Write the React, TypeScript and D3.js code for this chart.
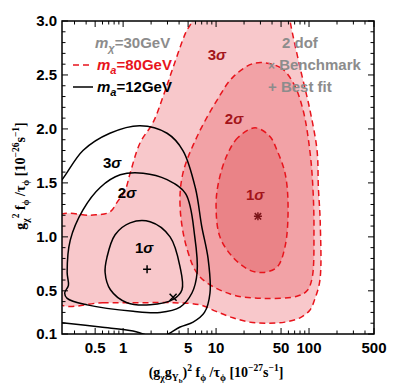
import { curveCatmullRom, curveCatmullRomClosed, line, scaleLinear, scaleLog } from "d3";

// m_a = 80 GeV contours (dashed red, filled)
const red3: [number, number][] = [
  [0.2, 0.39], [0.6, 0.39], [1.5, 0.39], [3.5, 0.39], [6.7, 0.37], [10, 0.31],
  [15.2, 0.25], [23, 0.21], [35.3, 0.2], [55, 0.21], [80, 0.25], [102, 0.32],
  [115, 0.42], [131, 0.6], [132, 1.13], [126, 1.46], [122, 1.8], [102, 2.18],
  [80, 2.57], [62.5, 3.0], [58, 3.2], [5.9, 3.2], [5.5, 3.0], [4.7, 2.89],
  [3.45, 2.57], [2.69, 2.3], [2.1, 2.06], [1.52, 1.87], [1.19, 1.59],
  [1.05, 1.43], [0.86, 1.32], [0.72, 1.23], [0.45, 1.2], [0.2, 1.19],
];
const red2: [number, number][] = [
  [26.3, 2.61], [48.8, 2.57], [67.3, 2.43], [86, 2.18], [102, 1.8], [110, 1.46],
  [113, 1.06], [108, 0.62], [95, 0.5], [74, 0.45], [32, 0.43], [14.2, 0.47],
  [6.7, 0.63], [4.9, 0.88], [4.1, 1.28], [4.4, 1.59], [6.25, 1.93],
  [10.3, 2.27], [15.2, 2.48],
];
const red1: [number, number][] = [
  [26.3, 2.01], [17.2, 1.92], [13, 1.75], [10.6, 1.5], [10, 1.28], [11, 1.0],
  [15.2, 0.81], [23.2, 0.69], [32, 0.67], [45.3, 0.72], [55.2, 0.91],
  [59.5, 1.28], [55.2, 1.59], [45.3, 1.8], [38, 1.93],
];

// m_a = 12 GeV contours (solid black)
const black3: [number, number][] = [
  [0.19, 0.21], [0.22, 0.205], [0.57, 0.165], [1.28, 0.128], [1.64, 0.1],
  [2.4, 0.06], [3.05, 0.1], [4.1, 0.165], [5.66, 0.21], [7.5, 0.3],
  [8.6, 0.48], [8.2, 0.8], [7.0, 1.1], [6.0, 1.45], [4.4, 1.8], [2.97, 1.96],
  [1.52, 2.03], [0.72, 1.96], [0.37, 1.8], [0.22, 1.53], [0.19, 1.48],
];
const black2: [number, number][] = [
  [1.64, 1.59], [2.97, 1.53], [4.7, 1.4], [5.9, 1.0], [6.25, 0.67],
  [5.5, 0.48], [4.1, 0.35], [2.5, 0.3], [1.28, 0.31], [0.41, 0.37],
  [0.25, 0.43], [0.235, 0.48], [0.258, 0.55], [0.25, 0.67], [0.27, 0.97],
  [0.37, 1.25], [0.57, 1.46], [0.93, 1.575],
];
const black1: [number, number][] = [
  [1.19, 1.13], [1.95, 1.14], [3.2, 1.0], [4.1, 0.72], [4.3, 0.51],
  [3.45, 0.42], [1.95, 0.37], [1.1, 0.39], [0.73, 0.51], [0.64, 0.67],
  [0.67, 0.81], [0.82, 1.02],
];

const bestFit12: [number, number] = [1.81, 0.7];
const benchmark: [number, number] = [3.45, 0.44];
const bestFit80: [number, number] = [28.2, 1.19];

// sigma labels: [x, y, text]
const blackLabels: [number, number, string][] = [
  [0.76, 1.64, "3"], [1.1, 1.36, "2"], [1.68, 0.85, "1"],
];
const redLabels: [number, number, string][] = [
  [10.2, 2.64, "3"], [15.6, 2.05, "2"], [26.3, 1.34, "1"],
];

const xTickLabels = [0.5, 1, 5, 10, 50, 100, 500];
const yTickLabels = [0.1, 0.5, 1.0, 1.5, 2.0, 2.5, 3.0];

const RED = "#e8141c";
const DARKRED = "#a3141a";
const GRAY = "#8c8c8c";

type Seg = [string, number?];
// render text segments with shift: 0 normal, 1 sub, -1 sup, 2 subsub
function Rich({ segs, size }: { segs: Seg[]; size: number }) {
  let prev = 0;
  const off = (s: number) => (s === 1 ? size * 0.3 : s === -1 ? -size * 0.42 : s === 2 ? size * 0.45 : 0);
  return (
    <>
      {segs.map(([t, s = 0], i) => {
        const o = off(s);
        const dy = o - prev;
        prev = o;
        return (
          <tspan key={i} dy={dy} fontSize={s === 0 ? size : s === 2 ? size * 0.5 : size * 0.68}>
            {t}
          </tspan>
        );
      })}
    </>
  );
}

export default function App() {
  const x = scaleLog().domain([0.22, 500]).range([62, 374]);
  const y = scaleLinear().domain([0.1, 3.0]).range([334, 21]);
  const closed = line<[number, number]>()
    .x((d) => x(d[0]))
    .y((d) => y(d[1]))
    .curve(curveCatmullRomClosed.alpha(0.5));
  const open = line<[number, number]>()
    .x((d) => x(d[0]))
    .y((d) => y(d[1]))
    .curve(curveCatmullRom.alpha(0.5));

  const xMinor: number[] = [];
  [0.1, 1, 10, 100].forEach((dec) => {
    for (let k = 1; k <= 9; k++) {
      const v = dec * k;
      if (v >= 0.22 && v <= 500) xMinor.push(v);
    }
  });
  const yMinor: number[] = [];
  for (let k = 1; k <= 30; k++) yMinor.push(k / 10);

  const [x0, x1] = x.range();
  const [y0, y1] = y.range();
  const sans = "Liberation Sans, Arial, sans-serif";
  const serif = "Liberation Serif, Times New Roman, serif";

  const cross = (p: [number, number], s: number) => {
    const cx = x(p[0]), cy = y(p[1]);
    return `M${cx - s},${cy - s}L${cx + s},${cy + s}M${cx - s},${cy + s}L${cx + s},${cy - s}`;
  };
  const plus = (p: [number, number], s: number) => {
    const cx = x(p[0]), cy = y(p[1]);
    return `M${cx - s},${cy}L${cx + s},${cy}M${cx},${cy - s}L${cx},${cy + s}`;
  };

  return (
    <div style={{ position: "absolute", left: 0, top: 0 }}>
      <svg width={399} height={385} style={{ display: "block", background: "#fff" }}>
        <defs>
          <clipPath id="plotClip">
            <rect x={x0} y={y1} width={x1 - x0} height={y0 - y1} />
          </clipPath>
        </defs>
        <g clipPath="url(#plotClip)">
          <path d={closed(red3) ?? ""} fill="#f8c8cb" stroke="none" />
          <path d={closed(red2) ?? ""} fill="#f2a2a6" stroke="none" />
          <path d={closed(red1) ?? ""} fill="#ea8387" stroke="none" />
          {[red3, red2, red1].map((c, i) => (
            <path key={i} d={closed(c) ?? ""} fill="none" stroke={RED} strokeWidth={1.5} strokeDasharray="6,4" />
          ))}
          <path d={open(black3) ?? ""} fill="none" stroke="#000" strokeWidth={1.5} />
          <path d={closed(black2) ?? ""} fill="none" stroke="#000" strokeWidth={1.5} />
          <path d={closed(black1) ?? ""} fill="none" stroke="#000" strokeWidth={1.5} />
        </g>

        {/* markers */}
        <path d={plus(bestFit12, 4)} stroke="#000" strokeWidth={1.5} />
        <path d={cross(benchmark, 3.5)} stroke="#000" strokeWidth={1.5} />
        <g stroke="#7a1418" strokeWidth={1.5}>
          <path d={plus(bestFit80, 4)} />
          <path d={cross(bestFit80, 3.2)} />
        </g>

        {/* sigma labels */}
        {blackLabels.map(([a, b, t], i) => (
          <text key={"b" + i} x={x(a)} y={y(b)} textAnchor="middle" fontFamily={sans} fontWeight="bold" fontSize={15} fill="#000">
            {t}
            <tspan fontStyle="italic">σ</tspan>
          </text>
        ))}
        {redLabels.map(([a, b, t], i) => (
          <text key={"r" + i} x={x(a)} y={y(b)} textAnchor="middle" fontFamily={sans} fontWeight="bold" fontSize={15} fill={DARKRED}>
            {t}
            <tspan fontStyle="italic">σ</tspan>
          </text>
        ))}

        {/* frame */}
        <rect x={x0} y={y1} width={x1 - x0} height={y0 - y1} fill="none" stroke="#000" strokeWidth={1.5} />

        {/* ticks */}
        <g stroke="#000" strokeWidth={1}>
          {xMinor.map((v, i) => {
            const major = xTickLabels.includes(+v.toPrecision(3));
            const len = major ? 6 : 3.5;
            return (
              <g key={i}>
                <line x1={x(v)} x2={x(v)} y1={y0} y2={y0 - len} />
                <line x1={x(v)} x2={x(v)} y1={y1} y2={y1 + len} />
              </g>
            );
          })}
          {yMinor.map((v, i) => {
            const major = Math.abs((v * 10) % 5) < 1e-6 || v === 0.1;
            const len = major ? 6 : 3.5;
            return (
              <g key={i}>
                <line x1={x0} x2={x0 + len} y1={y(v)} y2={y(v)} />
                <line x1={x1} x2={x1 - len} y1={y(v)} y2={y(v)} />
              </g>
            );
          })}
        </g>
        {xTickLabels.map((v) => (
          <text key={v} x={x(v)} y={y0 + 19} textAnchor="middle" fontFamily={sans} fontWeight="bold" fontSize={15}>
            {String(v)}
          </text>
        ))}
        {yTickLabels.map((v) => (
          <text key={v} x={x0 - 5} y={y(v) + 5} textAnchor="end" fontFamily={sans} fontWeight="bold" fontSize={15}>
            {v.toFixed(1)}
          </text>
        ))}

        {/* axis titles */}
        <text x={216} y={377} textAnchor="middle" fontFamily={serif} fontWeight="bold" fill="#000">
          <Rich
            size={14}
            segs={[
              ["(g"], ["χ", 1], ["g"], ["Y", 1], ["b", 2], [")"], ["2", -1],
              [" f"], ["ϕ", 1], [" /τ"], ["ϕ", 1], [" [10"], ["−27", -1], ["s"], ["−1", -1], ["]"],
            ]}
          />
        </text>
        <text transform="translate(25,176) rotate(-90)" textAnchor="middle" fontFamily={serif} fontWeight="bold" fill="#000">
          <Rich
            size={14}
            segs={[
              ["g"], ["χ", 1], ["2", -1], [" f"], ["ϕ", 1], [" /τ"], ["ϕ", 1],
              [" [10"], ["−26", -1], ["s"], ["−1", -1], ["]"],
            ]}
          />
        </text>

        {/* legend left */}
        <text x={95} y={48} fontFamily={sans} fontWeight="bold" fontSize={15} fill={GRAY}>
          <tspan fontStyle="italic">m</tspan>
          <tspan fontStyle="italic" fontSize={11} dy={4}>χ</tspan>
          <tspan dy={-4}>=30GeV</tspan>
        </text>
        <line x1={73} x2={93} y1={65} y2={65} stroke={RED} strokeWidth={1.5} strokeDasharray="6,4" />
        <text x={97} y={70} fontFamily={sans} fontWeight="bold" fontSize={15} fill={RED}>
          <tspan fontStyle="italic">m</tspan>
          <tspan fontStyle="italic" fontSize={11} dy={4}>a</tspan>
          <tspan dy={-4}>=80GeV</tspan>
        </text>
        <line x1={73} x2={93} y1={87} y2={87} stroke="#000" strokeWidth={1.5} />
        <text x={97} y={92} fontFamily={sans} fontWeight="bold" fontSize={15} fill="#000">
          <tspan fontStyle="italic">m</tspan>
          <tspan fontStyle="italic" fontSize={11} dy={4}>a</tspan>
          <tspan dy={-4}>=12GeV</tspan>
        </text>

        {/* legend right */}
        <text x={282} y={48} fontFamily={sans} fontWeight="bold" fontSize={15} fill={GRAY}>2 dof</text>
        <text x={268} y={70} fontFamily={sans} fontWeight="bold" fontSize={15} fill={GRAY}>
          <tspan fontSize={12}>×</tspan> Benchmark
        </text>
        <text x={268} y={92} fontFamily={sans} fontWeight="bold" fontSize={15} fill={GRAY}>
          + Best fit
        </text>
      </svg>
    </div>
  );
}
